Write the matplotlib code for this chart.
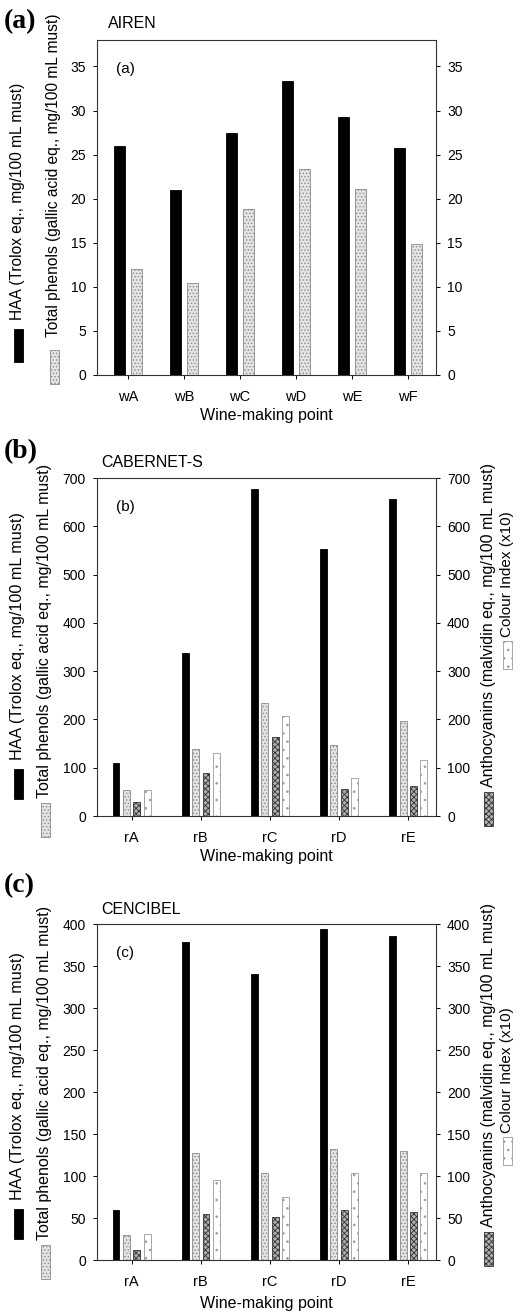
import matplotlib; matplotlib.use("agg")
import matplotlib.pyplot as plt
from matplotlib.patches import Rectangle
import numpy as np

plt.rcParams['font.family'] = ['Liberation Sans', 'DejaVu Sans']
plt.rcParams['hatch.linewidth'] = 0.6

# Panel (a) AIREN
pts_a = ['wA', 'wB', 'wC', 'wD', 'wE', 'wF']
haa_a = [26.0, 21.0, 27.5, 33.3, 29.3, 25.7]
tp_a = [12.0, 10.4, 18.8, 23.4, 21.1, 14.9]

# Panel (b) CABERNET-S
pts_b = ['rA', 'rB', 'rC', 'rD', 'rE']
haa_b = [110, 337, 677, 553, 657]
tp_b = [53, 139, 234, 148, 197]
anth_b = [30, 89, 163, 55, 62]
ci_b = [53, 130, 207, 79, 115]

# Panel (c) CENCIBEL
pts_c = ['rA', 'rB', 'rC', 'rD', 'rE']
haa_c = [60, 379, 340, 394, 386]
tp_c = [30, 127, 103, 132, 130]
anth_c = [12, 55, 51, 59, 57]
ci_c = [31, 95, 75, 104, 103]

W, H = 524, 1313
fig = plt.figure(figsize=(W / 100, H / 100), dpi=100)

# bar styles
s_haa = dict(color='black', edgecolor='black', lw=0.6)
s_tp = dict(facecolor='#e4e4e4', edgecolor='#8a8a8a', hatch='.....', lw=0.6)
s_anth = dict(facecolor='#b0b0b0', edgecolor='#333333', hatch='xxxxxx', lw=0.6)
s_ci = dict(facecolor='white', edgecolor='#9a9a9a', hatch='..', lw=0.6)

def fx(px):
    return px / W

def fy(py):
    return 1 - py / H

def add_axes(top, bottom, xpad=3):
    ax = fig.add_axes([fx(97), fy(bottom), fx(436) - fx(97), (bottom - top) / H])
    for s in ax.spines.values():
        s.set_linewidth(0.8)
        s.set_color('#333333')
    ax.tick_params(axis='y', which='both', direction='out', right=True,
                   labelright=True, labelsize=10, length=3, width=0.7, pad=5)
    ax.tick_params(axis='x', direction='out', labelsize=10.5, length=3, width=0.7, pad=8)
    ax.set_xlabel('Wine-making point', fontsize=11.5, labelpad=xpad)
    return ax

def side_label(x, y_bot, text, style, patch_h, gap=6, size=11.2):
    # patch below, rotated text above (pixel positions)
    fig.add_artist(Rectangle((fx(x - 4.5), fy(y_bot + gap + patch_h)), fx(9), patch_h / H,
                             transform=fig.transFigure, **style))
    fig.text(fx(x), fy(y_bot), text, rotation=90, ha='center', va='bottom', fontsize=size)

def panel_letter(y, letter):
    fig.text(fx(4), fy(y), letter, fontsize=20, fontweight='bold',
             family='Liberation Serif', va='center', ha='left')

# ---- (a) ----
ax = add_axes(40, 375)
x = np.arange(len(pts_a))
ax.bar(x - 0.15, haa_a, 0.2, **s_haa)
ax.bar(x + 0.15, tp_a, 0.2, **s_tp)
ax.set_xticks(x)
ax.set_xticklabels(pts_a)
ax.set_xlim(-0.55, 5.5)
ax.set_ylim(0, 38)
ax.set_yticks(np.arange(0, 36, 5))
ax.text(0.055, 0.935, '(a)', transform=ax.transAxes, fontsize=11, va='top')
fig.text(fx(108), fy(24), 'AIREN', fontsize=11.5, va='center')
panel_letter(22, '(a)')
side_label(18, 320, 'HAA (Trolox eq., mg/100 mL must)', s_haa, 33, gap=9)
side_label(54, 337, 'Total phenols (gallic acid eq., mg/100 mL must)', s_tp, 34, gap=13)

# ---- (b) and (c) ----
def four_bars(top, bottom, pts, haa, tp, anth, ci, ymax, step, tag, name, name_y, letter_y, labs, xpad=3):
    ax = add_axes(top, bottom, xpad)
    x = np.arange(len(pts))
    w = 0.1
    ax.bar(x - 0.225, haa, w, **s_haa)
    ax.bar(x - 0.075, tp, w, **s_tp)
    ax.bar(x + 0.075, anth, w, **s_anth)
    ax.bar(x + 0.225, ci, w, **s_ci)
    ax.set_xticks(x)
    ax.set_xticklabels(pts)
    ax.set_xlim(-0.5, 4.4)
    ax.set_ylim(0, ymax)
    ax.set_yticks(np.arange(0, ymax + 1, step))
    ax.text(0.055, 0.935, tag, transform=ax.transAxes, fontsize=11, va='top')
    fig.text(fx(101), fy(name_y), name, fontsize=11.5, va='center')
    panel_letter(letter_y, tag)
    (haa_y, tp_y, an_y, ci_y) = labs
    side_label(18, haa_y, 'HAA (Trolox eq., mg/100 mL must)', s_haa, 30, gap=9, size=11.6)
    side_label(45, tp_y, 'Total phenols (gallic acid eq., mg/100 mL must)', s_tp, 34, gap=5, size=11.5)
    side_label(488, an_y, 'Anthocyanins (malvidin eq., mg/100 mL must)', s_anth, 34, gap=5, size=11.5)
    side_label(507, ci_y, 'Colour Index (x10)', s_ci, 28, gap=4, size=11)

four_bars(478, 816, pts_b, haa_b, tp_b, anth_b, ci_b, 700, 100, '(b)',
          'CABERNET-S', 462, 452, (760, 798, 787, 637))
four_bars(924, 1260, pts_c, haa_c, tp_c, anth_c, ci_c, 400, 50, '(c)',
          'CENCIBEL', 909, 886, (1200, 1240, 1227, 1133), xpad=5)

plt.savefig('out.png', dpi=100)
